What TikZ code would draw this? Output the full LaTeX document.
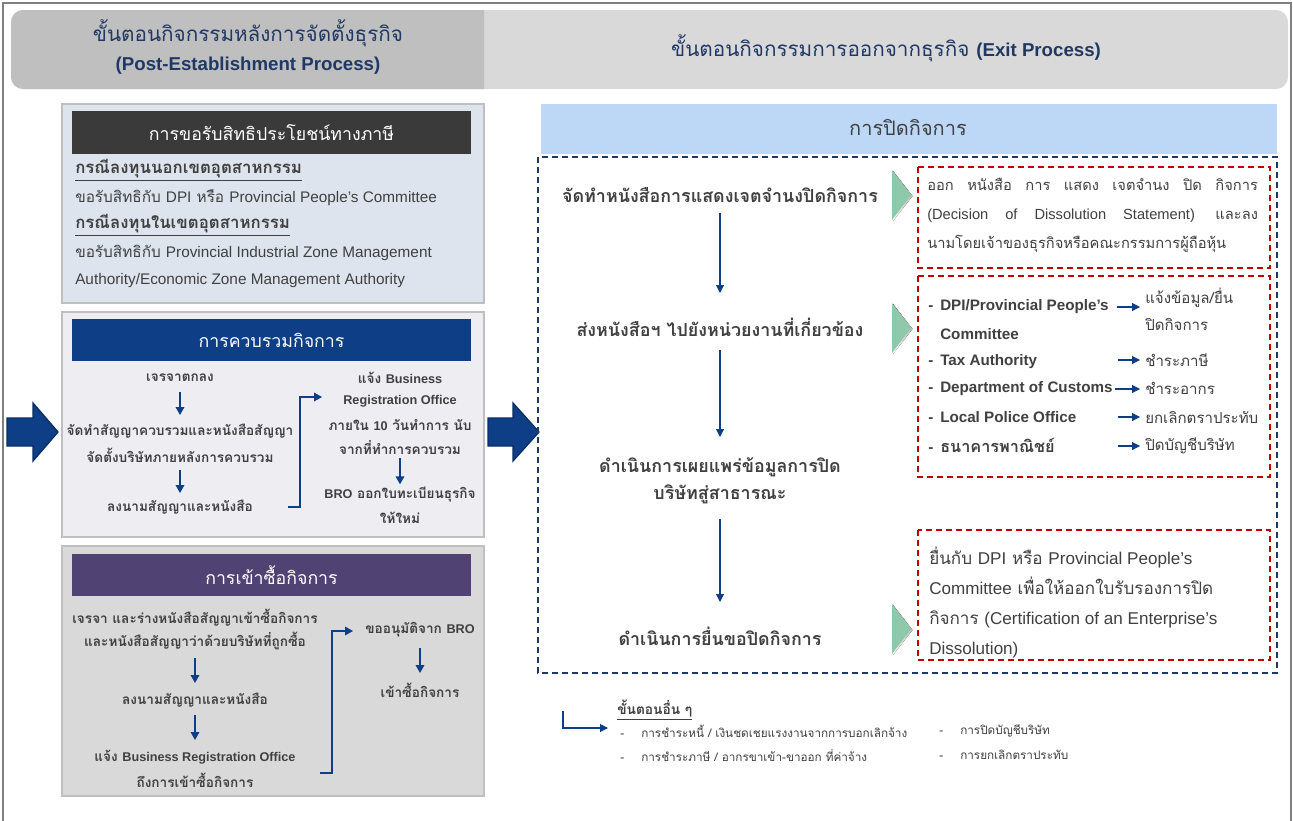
\documentclass[tikz,border=0pt]{standalone}
\usepackage{fontspec}
\setmainfont{Loma}[Script=Thai]
\newfontfamily\lat{Liberation Sans}
\usetikzlibrary{arrows.meta}
\definecolor{navy}{HTML}{0E3F86}
\definecolor{navyk}{HTML}{0A2E66}
\definecolor{navyd}{HTML}{1F3864}
\definecolor{tgray}{HTML}{404040}
\definecolor{hdrL}{HTML}{BFBFBF}
\definecolor{hdrR}{HTML}{D9D9D9}
\definecolor{bA}{HTML}{DDE4EE}
\definecolor{bB}{HTML}{EDEDF2}
\definecolor{bC}{HTML}{D9D9D9}
\definecolor{bord}{HTML}{BFBFBF}
\definecolor{tA}{HTML}{3A3A3A}
\definecolor{tC}{HTML}{514274}
\definecolor{lblue}{HTML}{BDD7F7}
\definecolor{redd}{HTML}{C00000}
\definecolor{chev}{HTML}{8FC9AB}
\definecolor{shade}{HTML}{B8B8B8}
\definecolor{frame}{HTML}{808080}
\newcommand\fsz[2]{\fontsize{#1}{#2}\selectfont}
\newcommand\lb[1]{{\lat\fontsize{9.5}{11}\selectfont #1}}
\tikzset{
  tx/.style={inner sep=0pt, text=tgray},
  bx/.style={tx, font=\bfseries\fsz{10.2}{12}},
  stp/.style={tx, font=\bfseries\fsz{13.4}{15}},
  ttl/.style={inner sep=0pt, text=white, font=\fsz{13.3}{15}},
  arr/.style={draw=navy, line width=1pt, -{Triangle[length=6pt,width=6.5pt]}},
  sarr/.style={draw=navy, line width=0.8pt, -{Triangle[length=6pt,width=6pt]}},
  reddash/.style={draw=redd, line width=1.2pt, dash pattern=on 4.5pt off 3pt},
  chevron/.style={fill=chev},
}
\begin{document}
\begin{tikzpicture}[x=0.75pt,y=-0.75pt]
\useasboundingbox (0,0) rectangle (1293,821);
\fill[white] (0,0) rectangle (1293,821);
% outer frame
\draw[frame, line width=1.5pt] (3,821) -- (3,3) -- (1291,3) -- (1291,821);
% header bar
\fill[hdrR, rounded corners=9pt] (11,10) rectangle (1288,89);
\fill[hdrL] (484,10) [rounded corners=9pt]-- (11,10) -- (11,89) [sharp corners]-- (484,89) -- cycle;
\node[tx, text=navyd, font=\fsz{15.5}{17}] (h1) at (248,33) {ขั้นตอนกิจกรรมหลังการจัดตั้งธุรกิจ};
\node[tx, text=navyd, font=\lat\bfseries\fsz{14}{16}] (h2) at (248,66) {(Post-Establishment Process)};
\node[tx, text=navyd, font=\fsz{15.5}{17}] (h3) at (886,48) {ขั้นตอนกิจกรรมการออกจากธุรกิจ {\lat\bfseries\fsz{14}{16}(Exit Process)}};

% ---------- box 1
\draw[draw=bord, fill=bA, line width=1.2pt] (62,104) rectangle (484,303);
\fill[tA] (72,111) rectangle (471,154);
\node[ttl] (tb1) at (271.5,132.5) {การขอรับสิทธิประโยชน์ทางภาษี};
\node[tx, anchor=west, font=\bfseries\fsz{12.6}{14}] (k1) at (75,170) {\underline{กรณีลงทุนนอกเขตอุตสาหกรรม}};
\node[tx, anchor=west, font=\fsz{11.5}{13}] (k2) at (75,198) {ขอรับสิทธิกับ {\lat DPI} หรือ {\lat Provincial People’s Committee}};
\node[tx, anchor=west, font=\bfseries\fsz{12.6}{14}] (k3) at (75,225) {\underline{กรณีลงทุนในเขตอุตสาหกรรม}};
\node[tx, anchor=west, font=\fsz{11.5}{13}] (k4) at (75,253) {ขอรับสิทธิกับ {\lat Provincial Industrial Zone Management}};
\node[tx, anchor=west, font=\lat\fsz{11.5}{13}] (k5) at (75,281) {Authority/Economic Zone Management Authority};

% ---------- box 2
\draw[draw=bord, fill=bB, line width=1.2pt] (62,312) rectangle (484,537);
\fill[navy] (72,319) rectangle (471,361);
\node[ttl] (tb2) at (271.5,340) {การควบรวมกิจการ};
\node[bx] (m1) at (180,378) {เจรจาตกลง};
\node[bx] (m2a) at (180,431) {จัดทำสัญญาควบรวมและหนังสือสัญญา};
\node[bx] (m2b) at (180,455) {จัดตั้งบริษัทภายหลังการควบรวม};
\node[bx] (m3) at (180,507) {ลงนามสัญญาและหนังสือ};
\node[bx] (n1) at (400,378) {แจ้ง \lb{Business}};
\node[bx] (n2) at (400,401) {\lb{Registration Office}};
\node[bx] (n3) at (400,425) {ภายใน \lb{10} วันทำการ นับ};
\node[bx] (n4) at (400,448) {จากที่ทำการควบรวม};
\node[bx] (n5) at (400,495) {\lb{BRO} ออกใบทะเบียนธุรกิจ};
\node[bx] (n6) at (400,518) {ให้ใหม่};
\draw[arr, shorten <=10.5pt, shorten >=12pt] (m1.center) -- (m2a.center);
\draw[arr, shorten <=11pt, shorten >=10.5pt] (m2b.center) -- (m3.center);
\draw[arr, shorten <=7.5pt, shorten >=8pt] (n4.center) -- (n5.center);
\coordinate (c2a) at (288,507);
\coordinate (c2b) at (322,397);
\draw[arr] (c2a) -- ++(12,0) |- (c2b);

% ---------- box 3
\draw[draw=bord, fill=bC, line width=1.2pt] (62,546) rectangle (484,796);
\fill[tC] (72,554) rectangle (471,596);
\node[ttl] (tb3) at (271.5,575) {การเข้าซื้อกิจการ};
\node[bx] (p1a) at (195,618) {เจรจา และร่างหนังสือสัญญาเข้าซื้อกิจการ};
\node[bx] (p1b) at (195,641) {และหนังสือสัญญาว่าด้วยบริษัทที่ถูกซื้อ};
\node[bx] (p2) at (195,700) {ลงนามสัญญาและหนังสือ};
\node[bx] (p3a) at (195,757) {แจ้ง \lb{Business Registration Office}};
\node[bx] (p3b) at (195,780) {ถึงการเข้าซื้อกิจการ};
\node[bx] (q1) at (420,630) {ขออนุมัติจาก \lb{BRO}};
\node[bx] (q2) at (420,690) {เข้าซื้อกิจการ};
\draw[arr, shorten <=12.75pt, shorten >=12.75pt] (p1b.center) -- (p2.center);
\draw[arr, shorten <=11pt, shorten >=12.75pt] (p2.center) -- (p3a.center);
\draw[arr, shorten <=13.5pt, shorten >=12.75pt] (q1.center) -- (q2.center);
\coordinate (c3a) at (320,773);
\coordinate (c3b) at (353,631);
\draw[arr] (c3a) -- ++(12,0) |- (c3b);

% ---------- big arrows
\filldraw[fill=navy, draw=navyk, line width=1pt] (7,418) -- (33,418) -- (33,403) -- (58,432) -- (33,461) -- (33,446) -- (7,446) -- cycle;
\filldraw[fill=navy, draw=navyk, line width=1pt] (488,418) -- (513,418) -- (513,403) -- (539,432) -- (513,461) -- (513,446) -- (488,446) -- cycle;

% ---------- right panel
\fill[lblue] (541,104) rectangle (1277,154);
\node[tx, font=\fsz{15}{17}] (rh) at (908,128) {การปิดกิจการ};
\draw[navyd, line width=1.2pt, dash pattern=on 4.5pt off 3pt] (538,157) rectangle (1277,673);

\node[stp] (s1) at (720,195) {จัดทำหนังสือการแสดงเจตจำนงปิดกิจการ};
\node[stp] (s2) at (720,327) {ส่งหนังสือฯ ไปยังหน่วยงานที่เกี่ยวข้อง};
\node[stp] (s3a) at (720,467) {ดำเนินการเผยแพร่ข้อมูลการปิด};
\node[stp] (s3b) at (720,494) {บริษัทสู่สาธารณะ};
\node[stp] (s4) at (720,636) {ดำเนินการยื่นขอปิดกิจการ};
\draw[sarr, shorten <=13.5pt, shorten >=25.5pt] (s1.center) -- (s2.center);
\draw[sarr, shorten <=17pt, shorten >=22.5pt] (s2.center) -- (s3a.center);
\draw[sarr, shorten <=19pt, shorten >=25.5pt] (s3b.center) -- (s4.center);

% chevrons
\foreach \yy in {195,328,629}{
  \fill[shade] (893,\yy-24) -- (912.5,\yy+1) -- (893,\yy+26) -- cycle;
  \fill[chevron] (892,\yy-25) -- (911,\yy) -- (892,\yy+25) -- cycle;
}

% red box 1
\draw[reddash] (918,167) rectangle (1270,268);
\node[tx, anchor=west, text width=248pt, align=justify, font=\fsz{11}{21.75}] (r0) at (927,215)
 {\XeTeXlinebreaklocale "th"\XeTeXlinebreakskip=0pt plus 3pt ออกหนังสือการแสดงเจตจำนงปิดกิจการ\XeTeXlinebreaklocale ""\linebreak {\lat (Decision of Dissolution Statement)} และลง\linebreak นามโดยเจ้าของธุรกิจหรือคณะกรรมการผู้ถือหุ้น};

% red box 2
\draw[reddash] (918,276) rectangle (1270,477);
\tikzset{lbl/.style={tx, anchor=west, font=\lat\bfseries\fsz{11.4}{13}}, res/.style={tx, anchor=west, font=\fsz{11.3}{20}, align=left}}
\node[lbl] (d1) at (928,307) {\makebox[9pt][l]{-}DPI/Provincial People’s};
\node[lbl] (d1b) at (940,334) {Committee};
\node[lbl] (d2) at (928,362) {\makebox[9pt][l]{-}Tax Authority};
\node[lbl] (d3) at (928,389) {\makebox[9pt][l]{-}Department of Customs};
\node[lbl] (d4) at (928,417) {\makebox[9pt][l]{-}Local Police Office};
\node[tx, anchor=west, font=\bfseries\fsz{12.2}{14}] (d5) at (928,445) {\makebox[9pt][l]{\lat\fsz{11.4}{13}-}ธนาคารพาณิชย์};
\node[res] (r1) at (1145,309) {แจ้งข้อมูล/ยื่น\\ปิดกิจการ};
\node[res] (r2) at (1145,360) {ชำระภาษี};
\node[res] (r3) at (1145,388) {ชำระอากร};
\node[res] (r4) at (1145,417) {ยกเลิกตราประทับ};
\node[res] (r5) at (1145,446) {ปิดบัญชีบริษัท};
\coordinate (a1) at (1117,307);
\coordinate (a2) at (1118,360);
\coordinate (a3) at (1115,389);
\coordinate (a4) at (1118,417);
\coordinate (a5) at (1118,446);
\foreach \i in {1,...,5}{
  \draw[sarr, shorten >=3.75pt] (a\i) -- (a\i -| r\i.west);
}

% red box 3
\draw[reddash] (918,530) rectangle (1270,660);
\node[tx, anchor=west, align=left, font=\fsz{12.8}{22.5}] (r6) at (929,602)
 {ยื่นกับ {\lat DPI} หรือ {\lat Provincial People’s}\\{\lat Committee} เพื่อให้ออกใบรับรองการปิด\\กิจการ {\lat (Certification of an Enterprise’s}\\{\lat Dissolution)}};

% legend
\coordinate (g0) at (563,711);
\coordinate (g1) at (608,728);
\draw[sarr] (g0) |- (g1);
\node[tx, anchor=west, font=\bfseries\fsz{10.3}{12}] (g2) at (617,710) {\underline{ขั้นตอนอื่น ๆ}};
\tikzset{leg/.style={tx, anchor=west, font=\fsz{8.8}{10}}}
\node[leg] (g3) at (620,731) {\makebox[15.75pt][l]{-}การชำระหนี้ / เงินชดเชยแรงงานจากการบอกเลิกจ้าง};
\node[leg] (g4) at (939,731) {\makebox[15.75pt][l]{-}การปิดบัญชีบริษัท};
\node[leg] (g5) at (620,755) {\makebox[15.75pt][l]{-}การชำระภาษี / อากรขาเข้า-ขาออก ที่ค่าจ้าง};
\node[leg] (g6) at (939,755) {\makebox[15.75pt][l]{-}การยกเลิกตราประทับ};
\end{tikzpicture}
\end{document}
